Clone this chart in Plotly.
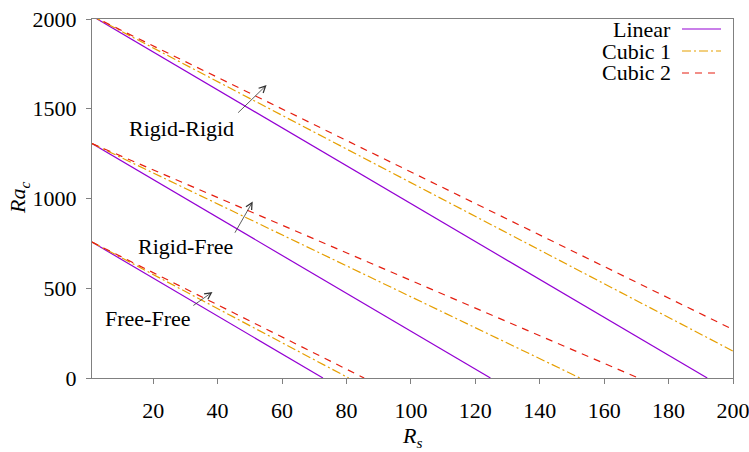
import plotly.graph_objects as go

# Critical Rayleigh number Ra_c versus solutal Rayleigh number R_s
# for three boundary combinations and three model variants.

# Linear model
RS_LIN_RR = [1, 25, 50, 75, 100, 125, 150, 175, 192]
RA_LIN_RR = [2017, 1764, 1500, 1236, 972, 708, 444, 180, 0]
RS_LIN_RF = [1, 25, 50, 75, 100, 124.7]
RA_LIN_RF = [1306, 1053, 789, 525, 261, 0]
RS_LIN_FF = [1, 25, 50, 72.7]
RA_LIN_FF = [757, 504, 240, 0]

# Cubic 1 model
RS_C1_RR = [1, 25, 50, 75, 100, 125, 150, 175, 200]
RA_C1_RR = [2017, 1792, 1557, 1323, 1088, 853, 619, 384, 150]
RS_C1_RF = [1, 25, 50, 75, 100, 125, 150, 152.5]
RA_C1_RF = [1306, 1099, 884, 668, 453, 237, 22, 0]
RS_C1_FF = [1, 25, 50, 75, 80.7]
RA_C1_FF = [757, 529, 292, 54, 0]

# Cubic 2 model
RS_C2_RR = [1, 25, 50, 75, 100, 125, 150, 175, 200]
RA_C2_RR = [2017, 1806, 1586, 1366, 1146, 926, 706, 486, 270]
RS_C2_RF = [1, 25, 50, 75, 100, 125, 150, 170.6]
RA_C2_RF = [1306, 1121, 929, 736, 544, 351, 159, 0]
RS_C2_FF = [1, 25, 50, 75, 85.5]
RA_C2_FF = [757, 542, 318, 94, 0]

X_TICKS = [20, 40, 60, 80, 100, 120, 140, 160, 180, 200]
Y_TICKS = [0, 500, 1000, 1500, 2000]

LEGEND_NAMES = ["Linear", "Cubic 1", "Cubic 2"]
COLORS = ["#9400D3", "#E69F00", "#E51E10"]
DASHES = ["solid", "9px,3px,2px,3px", "7px,6px"]

# Curve labels with arrows: (text, label Rs, label Ra, tail Rs, tail Ra, head Rs, head Ra)
LABELS = [
    ("Rigid-Rigid", 28.9, 1391, 45.9, 1470, 55.2, 1632),
    ("Rigid-Free", 30.0, 732, 45.1, 801, 50.9, 983),
    ("Free-Free", 18.5, 330, 32.0, 398, 38.4, 479),
]

FONT = "Liberation Serif"
FS = 22

series = [
    [(RS_LIN_RR, RA_LIN_RR), (RS_LIN_RF, RA_LIN_RF), (RS_LIN_FF, RA_LIN_FF)],
    [(RS_C1_RR, RA_C1_RR), (RS_C1_RF, RA_C1_RF), (RS_C1_FF, RA_C1_FF)],
    [(RS_C2_RR, RA_C2_RR), (RS_C2_RF, RA_C2_RF), (RS_C2_FF, RA_C2_FF)],
]

fig = go.Figure()
for k, group in enumerate(series):
    for xs, ys in group:
        fig.add_trace(go.Scatter(
            x=xs, y=ys, mode="lines", showlegend=False,
            line=dict(color=COLORS[k], width=1.2, dash=DASHES[k]),
        ))

L, R, T, B = 92, 16, 19, 74
W, H = 749, 452
pw, ph = W - L - R, H - T - B


def px(xp):
    return (xp - L) / pw


def py(yp):
    return (H - B - yp) / ph


annotations = []
shapes = []

# Legend drawn at the top-right: text right-aligned, sample line after it
for i, name in enumerate(LEGEND_NAMES):
    yc = 29 + 22 * i
    annotations.append(dict(
        xref="paper", yref="paper", x=px(673), y=py(yc), xanchor="right",
        yanchor="middle", text=name, showarrow=False,
        font=dict(family=FONT, size=FS, color="black"),
    ))
    shapes.append(dict(
        type="line", xref="paper", yref="paper",
        x0=px(682), x1=px(721), y0=py(yc), y1=py(yc),
        line=dict(color=COLORS[i], width=1.2, dash=DASHES[i]),
    ))

for text, lx, ly, tx, ty, hx, hy in LABELS:
    annotations.append(dict(
        x=lx, y=ly, xref="x", yref="y", text=text, showarrow=False,
        font=dict(family=FONT, size=FS, color="black"),
    ))
    annotations.append(dict(
        x=hx, y=hy, ax=tx, ay=ty, xref="x", yref="y", axref="x", ayref="y",
        text="", showarrow=True, arrowhead=5, arrowsize=1.6, arrowwidth=0.8,
        arrowcolor="#333333", standoff=0, startstandoff=0,
    ))

# Axis titles
annotations.append(dict(
    xref="paper", yref="paper", x=px(19), y=py(198), xanchor="center",
    yanchor="middle", textangle=-90, showarrow=False,
    text="<i>Ra</i><sub><i>c</i></sub>",
    font=dict(family=FONT, size=FS, color="black"),
))
annotations.append(dict(
    xref="paper", yref="paper", x=px(412), y=py(437), xanchor="center",
    yanchor="middle", showarrow=False,
    text="<i>R</i><sub><i>s</i></sub>",
    font=dict(family=FONT, size=FS, color="black"),
))

axis_common = dict(
    showgrid=False, zeroline=False, showline=True, mirror=True,
    linecolor="#808080", linewidth=1, ticks="outside", ticklen=5,
    tickcolor="#808080", tickwidth=1, ticklabeloverflow="allow",
    automargin=False,
    tickfont=dict(family=FONT, size=FS, color="black"),
)

fig.update_layout(
    width=W, height=H,
    margin=dict(l=L, r=R, t=T, b=B, pad=0, autoexpand=False),
    paper_bgcolor="white", plot_bgcolor="white",
    xaxis=dict(range=[1, 200], tickvals=X_TICKS, ticklabelstandoff=8,
               **axis_common),
    yaxis=dict(range=[0, 2000], tickvals=Y_TICKS, ticklabelstandoff=5,
               **axis_common),
    annotations=annotations, shapes=shapes,
)

fig.write_html("out.html")
